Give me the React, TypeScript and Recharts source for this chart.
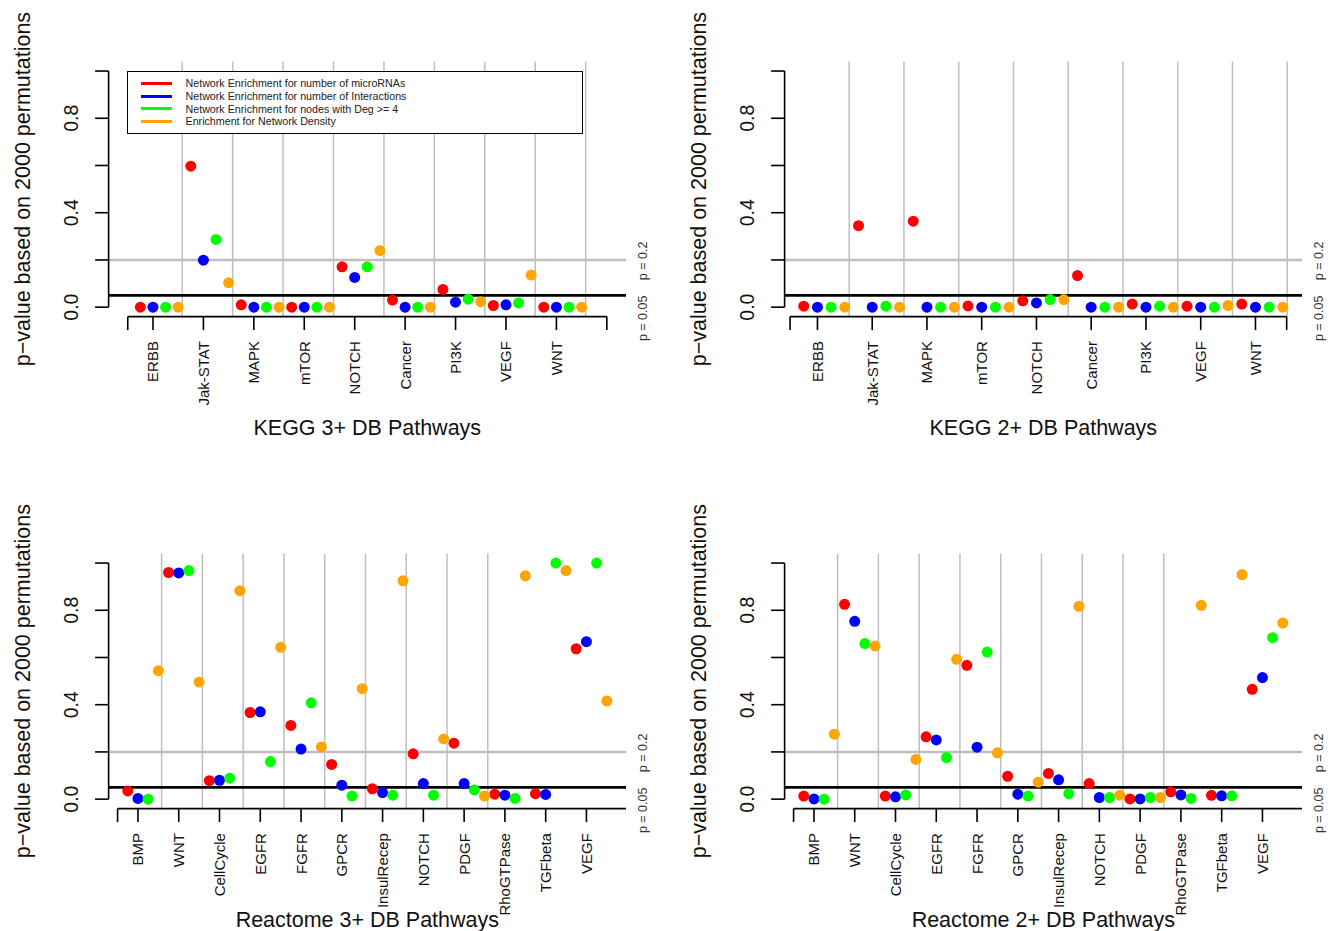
import React from "react"
import { ScatterChart, Scatter, XAxis, YAxis, ReferenceLine, Legend } from "recharts"

const FONT = '"Liberation Sans", Arial, Helvetica, sans-serif'

const seriesNames = [
  "Network Enrichment for number of microRNAs",
  "Network Enrichment for number of Interactions",
  "Network Enrichment for nodes with Deg >= 4",
  "Enrichment for Network Density",
]
const seriesColors = ["#ff0000", "#0000ff", "#00ff00", "#ffa500"]

const keggPathways = ["ERBB", "Jak-STAT", "MAPK", "mTOR", "NOTCH", "Cancer", "PI3K", "VEGF", "WNT"]
const reactomePathways = [
  "BMP", "WNT", "CellCycle", "EGFR", "FGFR", "GPCR",
  "InsulRecep", "NOTCH", "PDGF", "RhoGTPase", "TGFbeta", "VEGF",
]

// KEGG 3+ DB
const kegg3MicroRNA = [0, 0.597, 0.01, 0, 0.171, 0.03, 0.075, 0.007, 0]
const kegg3Interactions = [0, 0.199, 0, 0, 0.126, 0, 0.021, 0.01, 0]
const kegg3Deg4 = [0, 0.287, 0, 0, 0.171, 0, 0.034, 0.018, 0]
const kegg3Density = [0, 0.103, 0, 0, 0.239, 0, 0.023, 0.136, 0]

// KEGG 2+ DB
const kegg2MicroRNA = [0.004, 0.345, 0.364, 0.005, 0.027, 0.134, 0.013, 0.004, 0.013]
const kegg2Interactions = [0, 0, 0, 0, 0.018, 0, 0, 0, 0]
const kegg2Deg4 = [0, 0.004, 0, 0, 0.032, 0, 0.004, 0, 0]
const kegg2Density = [0, 0, 0, 0, 0.032, 0, 0, 0.007, 0]

// Reactome 3+ DB
const reactome3MicroRNA = [0.035, 0.96, 0.078, 0.367, 0.312, 0.147, 0.044, 0.192, 0.237, 0.021, 0.023, 0.637]
const reactome3Interactions = [0.003, 0.958, 0.08, 0.37, 0.212, 0.059, 0.028, 0.066, 0.066, 0.017, 0.02, 0.667]
const reactome3Deg4 = [0, 0.968, 0.089, 0.159, 0.408, 0.013, 0.017, 0.017, 0.039, 0.003, 1.0, 1.0]
const reactome3Density = [0.544, 0.496, 0.883, 0.643, 0.221, 0.468, 0.925, 0.255, 0.013, 0.946, 0.968, 0.416]

// Reactome 2+ DB
const reactome2MicroRNA = [0.013, 0.825, 0.013, 0.264, 0.567, 0.097, 0.109, 0.066, 0.001, 0.031, 0.016, 0.465]
const reactome2Interactions = [0.001, 0.753, 0.01, 0.251, 0.22, 0.021, 0.082, 0.007, 0.001, 0.018, 0.014, 0.515]
const reactome2Deg4 = [0, 0.659, 0.018, 0.176, 0.623, 0.013, 0.023, 0.007, 0.007, 0.003, 0.014, 0.684]
const reactome2Density = [0.275, 0.649, 0.168, 0.592, 0.196, 0.072, 0.817, 0.017, 0.007, 0.821, 0.951, 0.746]

const yTicks = [0, 0.2, 0.4, 0.6, 0.8, 1.0]
const yTickLabels = ["0.0", "", "0.4", "", "0.8", ""]
const thresholdTicks = [0.05, 0.2]
const thresholdLabels = ["p = 0.05", "p = 0.2"]

// each series sits a quarter category to the right of the previous one
const seriesOffsets = [-0.25, 0, 0.25, 0.5]
const dividerOffset = 0.58

const Y_AXIS_W = 108.6
const PLOT_W = 517.4
const PLOT_H = 255
const RIGHT_W = 32
const MARGIN_TOP = 61.6
const Y_DOMAIN: [number, number] = [-0.04, 1.04]

type PanelProps = {
  left: number
  top: number
  height: number
  categories: string[]
  series: number[][]
  xDomain: [number, number]
  xTicks: number[]
  axisEnd: number
  title: string
  showLegend?: boolean
}

function renderLegend() {
  return (
    <div
      style={{
        boxSizing: "border-box",
        width: 456,
        height: 63,
        border: "1.5px solid #000",
        background: "#fff",
        paddingTop: 5,
        fontFamily: FONT,
        fontSize: 10.7,
        color: "#222",
      }}
    >
      {seriesNames.map((name, i) => (
        <div key={name} style={{ display: "flex", alignItems: "center", height: 12.7 }}>
          <span
            style={{ display: "inline-block", width: 31, height: 3, background: seriesColors[i], marginLeft: 12.5, marginRight: 14 }}
          />
          <span style={{ whiteSpace: "nowrap" }}>{name}</span>
        </div>
      ))}
    </div>
  )
}

function Panel({ left, top, height, categories, series, xDomain, xTicks, axisEnd, title, showLegend }: PanelProps) {
  const xAxisH = height - MARGIN_TOP - PLOT_H
  const dividers = categories.slice(0, 9).map((_, i) => i + 1 + dividerOffset)

  const XTick = (props: any) => {
    const { x, y, payload } = props
    const v = payload.value
    const label = Number.isInteger(v) ? categories[v - 1] : undefined
    return (
      <g>
        <line x1={x} y1={y} x2={x} y2={y + 13.5} stroke="#000" strokeWidth={1.6} />
        {label && (
          <text
            transform={`translate(${x},${y + 24.5}) rotate(-90)`}
            textAnchor="end"
            dominantBaseline="central"
            fontSize={15}
            fontFamily={FONT}
            fill="#111"
          >
            {label}
          </text>
        )}
      </g>
    )
  }

  const YTick = (props: any) => {
    const { x, y, payload } = props
    const label = yTickLabels[yTicks.indexOf(payload.value)]
    return (
      <g>
        <line x1={x - 13.5} y1={y} x2={x} y2={y} stroke="#000" strokeWidth={1.6} />
        {label && (
          <text
            transform={`translate(${x - 38},${y}) rotate(-90)`}
            textAnchor="middle"
            dominantBaseline="central"
            fontSize={19.5}
            fontFamily={FONT}
            fill="#111"
          >
            {label}
          </text>
        )}
      </g>
    )
  }

  const ThresholdTick = (props: any) => {
    const { x, y, payload } = props
    const idx = thresholdTicks.indexOf(payload.value)
    const shift = payload.value === 0.05 ? 23 : 1
    return (
      <text
        transform={`translate(${x + 17},${y + shift}) rotate(-90)`}
        textAnchor="middle"
        dominantBaseline="central"
        fontSize={12.5}
        fontFamily={FONT}
        fill="#333"
      >
        {thresholdLabels[idx]}
      </text>
    )
  }

  const xTitle = () => (
    <text
      x={Y_AXIS_W + PLOT_W / 2}
      y={MARGIN_TOP + PLOT_H + 111.5}
      textAnchor="middle"
      dominantBaseline="central"
      fontSize={21.5}
      fontFamily={FONT}
      fill="#111"
    >
      {title}
    </text>
  )

  const yTitle = () => (
    <text
      transform={`translate(${Y_AXIS_W - 86},${MARGIN_TOP + PLOT_H / 2}) rotate(-90)`}
      textAnchor="middle"
      dominantBaseline="central"
      fontSize={21.5}
      fontFamily={FONT}
      fill="#111"
    >
      p−value based on 2000 permutations
    </text>
  )

  return (
    <div style={{ position: "absolute", left, top }}>
      <ScatterChart
        width={Y_AXIS_W + PLOT_W + RIGHT_W}
        height={height}
        margin={{ top: MARGIN_TOP, right: 0, bottom: 0, left: 0 }}
      >
        <XAxis
          type="number"
          dataKey="x"
          domain={xDomain}
          allowDataOverflow
          ticks={xTicks}
          interval={0}
          height={xAxisH}
          tickSize={0}
          tickMargin={0}
          axisLine={false}
          tickLine={false}
          tick={XTick}
          label={xTitle}
        />
        <YAxis
          yAxisId="left"
          type="number"
          dataKey="y"
          domain={Y_DOMAIN}
          allowDataOverflow
          ticks={yTicks}
          interval={0}
          width={Y_AXIS_W}
          tickSize={0}
          tickMargin={0}
          axisLine={false}
          tickLine={false}
          tick={YTick}
          label={yTitle}
        />
        <YAxis
          yAxisId="right"
          orientation="right"
          type="number"
          domain={Y_DOMAIN}
          allowDataOverflow
          ticks={thresholdTicks}
          interval={0}
          width={RIGHT_W}
          tickSize={0}
          tickMargin={0}
          axisLine={false}
          tickLine={false}
          tick={ThresholdTick}
        />
        {dividers.map((d) => (
          <ReferenceLine key={d} yAxisId="left" x={d} stroke="#bebebe" strokeWidth={1.5} ifOverflow="visible" />
        ))}
        <ReferenceLine yAxisId="left" y={0.2} stroke="#bebebe" strokeWidth={2.6} />
        <ReferenceLine yAxisId="left" y={0.05} stroke="#000" strokeWidth={2.8} />
        <ReferenceLine
          yAxisId="left"
          segment={[{ x: xDomain[0], y: 0 }, { x: xDomain[0], y: 1 }]}
          stroke="#000"
          strokeWidth={1.6}
          ifOverflow="visible"
        />
        <ReferenceLine
          yAxisId="left"
          segment={[{ x: 0.5, y: Y_DOMAIN[0] }, { x: axisEnd, y: Y_DOMAIN[0] }]}
          stroke="#000"
          strokeWidth={1.6}
          ifOverflow="visible"
        />
        {series.map((values, s) => (
          <Scatter
            key={seriesNames[s]}
            yAxisId="left"
            name={seriesNames[s]}
            fill={seriesColors[s]}
            data={values.map((v, i) => ({ x: i + 1 + seriesOffsets[s], y: v }))}
            isAnimationActive={false}
            shape={(p: any) => <circle cx={p.cx} cy={p.cy} r={5.5} fill={seriesColors[s]} />}
          />
        ))}
        {showLegend && (
          <Legend
            layout="horizontal"
            verticalAlign="middle"
            align="center"
            content={renderLegend}
            wrapperStyle={{ position: "absolute", left: 127, top: 71, width: 456, height: 63 }}
          />
        )}
      </ScatterChart>
    </div>
  )
}

export default function App() {
  return (
    <div
      style={{
        position: "absolute",
        left: 0,
        top: 0,
        width: 1336,
        height: 931,
        background: "#fff",
        overflow: "hidden",
        fontFamily: FONT,
      }}
    >
      <Panel
        left={0}
        top={0}
        height={460}
        categories={keggPathways}
        series={[kegg3MicroRNA, kegg3Interactions, kegg3Deg4, kegg3Density]}
        xDomain={[0.12, 10.38]}
        xTicks={[0.5, 1, 2, 3, 4, 5, 6, 7, 8, 9, 10]}
        axisEnd={10}
        title="KEGG 3+ DB Pathways"
        showLegend
      />
      <Panel
        left={676.4}
        top={0}
        height={460}
        categories={keggPathways}
        series={[kegg2MicroRNA, kegg2Interactions, kegg2Deg4, kegg2Density]}
        xDomain={[0.4, 9.85]}
        xTicks={[0.5, 1, 2, 3, 4, 5, 6, 7, 8, 9, 9.57]}
        axisEnd={9.57}
        title="KEGG 2+ DB Pathways"
      />
      <Panel
        left={0}
        top={491.8}
        height={439.2}
        categories={reactomePathways}
        series={[reactome3MicroRNA, reactome3Interactions, reactome3Deg4, reactome3Density]}
        xDomain={[0.28, 12.97]}
        xTicks={[0.5, 1, 2, 3, 4, 5, 6, 7, 8, 9, 10, 11, 12]}
        axisEnd={12.97}
        title="Reactome 3+ DB Pathways"
      />
      <Panel
        left={676.4}
        top={491.8}
        height={439.2}
        categories={reactomePathways}
        series={[reactome2MicroRNA, reactome2Interactions, reactome2Deg4, reactome2Density]}
        xDomain={[0.28, 12.97]}
        xTicks={[0.5, 1, 2, 3, 4, 5, 6, 7, 8, 9, 10, 11, 12]}
        axisEnd={12.97}
        title="Reactome 2+ DB Pathways"
      />
    </div>
  )
}
